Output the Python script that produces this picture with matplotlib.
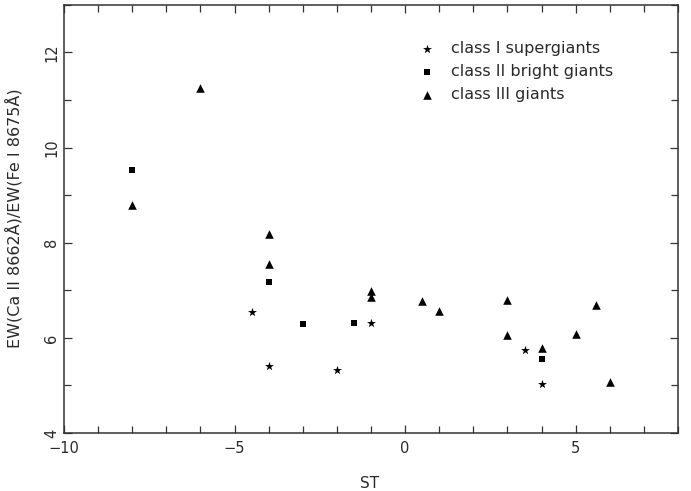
import matplotlib
matplotlib.use("Agg")
import matplotlib.pyplot as plt
from matplotlib.ticker import MultipleLocator

# spectral type vs Ca II / Fe I equivalent width ratio
st_supergiants = [-4.5, -4.0, -2.0, -1.0, 3.5, 4.0]
ew_supergiants = [6.54, 5.41, 5.33, 6.31, 5.74, 5.03]

st_bright = [-8.0, -4.0, -3.0, -1.5, 4.0]
ew_bright = [9.52, 7.18, 6.30, 6.32, 5.56]

st_giants = [-8.0, -6.0, -4.0, -4.0, -1.0, -1.0, 0.5, 1.0, 3.0, 3.0, 4.0, 5.0, 5.6, 6.0]
ew_giants = [8.80, 11.26, 8.19, 7.56, 6.98, 6.86, 6.78, 6.56, 6.79, 6.06, 5.79, 6.08, 6.69, 5.07]

plt.rcParams['font.family'] = 'DejaVu Sans'
txt_color = '#2a2a2a'

fig = plt.figure(figsize=(6.91, 4.91), dpi=100)
ax = fig.add_axes([0.0926, 0.118, 0.8886, 0.872])

ax.scatter(st_supergiants, ew_supergiants, marker='*', s=45, color='black',
           linewidths=0, label='class I supergiants')
ax.scatter(st_bright, ew_bright, marker='s', s=22, color='black',
           linewidths=0, label='class II bright giants')
ax.scatter(st_giants, ew_giants, marker='^', s=38, color='black',
           linewidths=0, label='class III giants')

ax.set_xlim(-10, 8)
ax.set_ylim(4, 13)
ax.xaxis.set_major_locator(MultipleLocator(5))
ax.xaxis.set_minor_locator(MultipleLocator(1))
ax.yaxis.set_major_locator(MultipleLocator(2))
ax.yaxis.set_minor_locator(MultipleLocator(1))
ax.tick_params(which='both', direction='in', top=True, right=True,
               labelsize=10.5, colors='#333333', labelcolor=txt_color)
ax.tick_params(which='major', length=6, width=0.9)
ax.tick_params(which='minor', length=5, width=0.9)
ax.tick_params(axis='x', pad=6)
for lab in ax.get_yticklabels():
    lab.set_rotation(90)
    lab.set_va('center')
for sp in ax.spines.values():
    sp.set_linewidth(1.1)
    sp.set_color('#333333')

ax.set_xlabel('ST', fontsize=11, color=txt_color)
ax.xaxis.set_label_coords(0.497, -0.10)
ax.set_ylabel('EW(Ca II 8662Å)/EW(Fe I 8675Å)', fontsize=11.5, color=txt_color)
ax.yaxis.set_label_coords(-0.068, 0.503)

ax.legend(loc='upper left', bbox_to_anchor=(0.558, 0.945), frameon=False,
          fontsize=11.5, handletextpad=1.0, labelspacing=0.5,
          borderpad=0.3, handlelength=1.0, labelcolor=txt_color)

fig.savefig('out.png', dpi=100)
